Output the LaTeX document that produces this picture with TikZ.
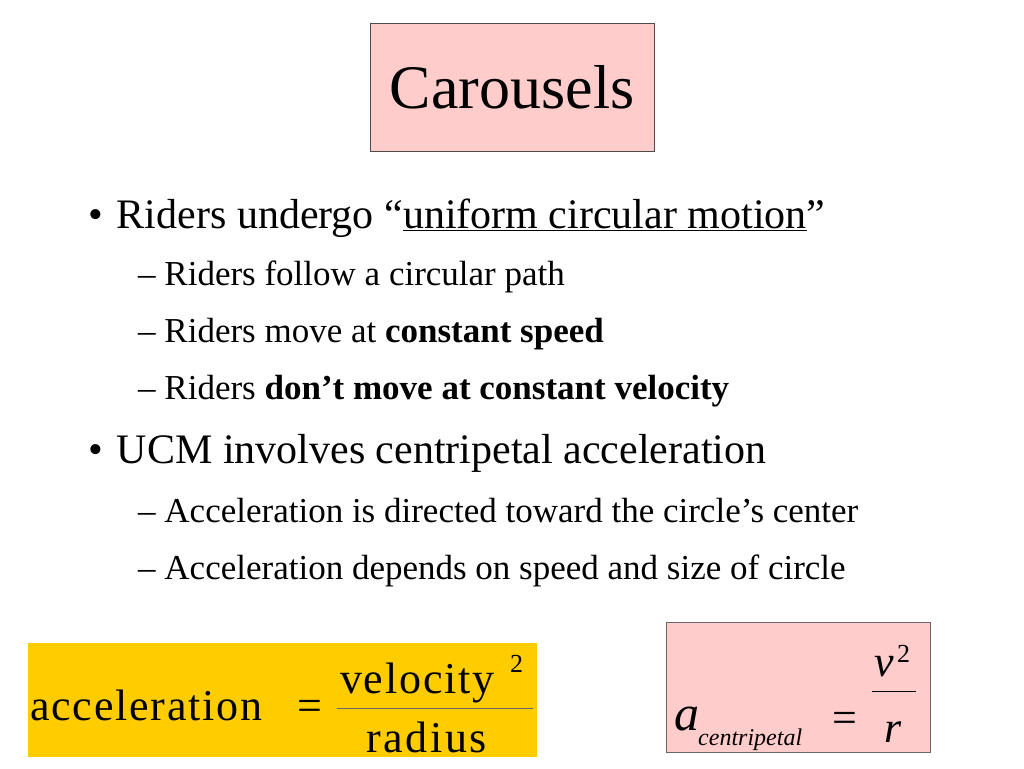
\documentclass[tikz,border=0pt]{standalone}
\usepackage{fontspec}
\setmainfont{Liberation Serif}
\usetikzlibrary{positioning}
\definecolor{titlepink}{RGB}{255,204,204}
\definecolor{eqyellow}{RGB}{255,204,0}

\begin{document}
\begin{tikzpicture}[
    x=1pt, y=-1pt,
    bigitem/.style={anchor=base west, inner sep=0pt, font=\fontsize{42}{48}\selectfont},
    subitem/.style={anchor=base west, inner sep=0pt, font=\fontsize{35}{40}\selectfont},
    eqbox/.style={anchor=north west, inner sep=0pt},
    eqtext/.style={anchor=base west, inner sep=0pt, font=\fontsize{44}{50}\selectfont},
    eqsmall/.style={anchor=base west, inner sep=0pt, font=\fontsize{26}{30}\selectfont}
]
\useasboundingbox (0,0) rectangle (1024,768);

% Title
\node[eqbox, draw=black!70, fill=titlepink, minimum width=284pt, minimum height=128pt] (titlebox) at (370,23) {};
\node[font=\fontsize{62}{68}\selectfont] (title) at (titlebox.center) {Carousels};

% Bullets
\node[bigitem] (b1) at (88,228) {\textbullet\hspace{14pt}Riders undergo ``\underline{uniform circular motion}''};
\node[subitem] (s1) at (138,285) {--\ Riders follow a circular path};
\node[subitem] (s2) at (138,342) {--\ Riders move at \textbf{constant speed}};
\node[subitem] (s3) at (138,399) {--\ Riders \textbf{don't move at constant velocity}};
\node[bigitem] (b2) at (88,463) {\textbullet\hspace{14pt}UCM involves centripetal acceleration};
\node[subitem] (s4) at (138,522) {--\ Acceleration is directed toward the circle's center};
\node[subitem] (s5) at (138,579) {--\ Acceleration depends on speed and size of circle};

% Equation: acceleration
\node[eqbox, fill=eqyellow, minimum width=509pt, minimum height=114pt] (accbox) at (28,643) {};
\node[eqtext] (acclhs) at (30,720) {\addfontfeatures{LetterSpace=4}acceleration};
\node[eqtext] (acceq) at (297,720) {=};
\coordinate (accl) at (337,708);
\coordinate (accr) at (533,708);
\draw[black!60] (accl) -- (accr);
\node[eqtext] (accnum) at (340,693) {\addfontfeatures{LetterSpace=4}velocity};
\node[eqsmall] (accsq) at (510,672) {2};
\node[eqtext] (accden) at (366,752) {\addfontfeatures{LetterSpace=6}radius};

% Equation: centripetal
\node[eqbox, draw=black!60, fill=titlepink, minimum width=264pt, minimum height=130pt] (cenbox) at (666,622) {};
\node[eqtext, font=\fontsize{50}{56}\selectfont\itshape] (cena) at (674,730) {a};
\node[eqsmall, font=\fontsize{24}{28}\selectfont\itshape] (censub) at (698,745) {centripetal};
\node[eqtext] (ceneq) at (832,732) {=};
\coordinate (cenl) at (872,691);
\coordinate (cenr) at (916,691);
\draw (cenl) -- (cenr);
\node[eqtext, font=\fontsize{44}{50}\selectfont\itshape] (cennum) at (874,676) {v};
\node[eqsmall] (censq) at (897,662) {2};
\node[eqtext, font=\fontsize{44}{50}\selectfont\itshape] (cenden) at (884,742) {r};
\end{tikzpicture}
\end{document}
